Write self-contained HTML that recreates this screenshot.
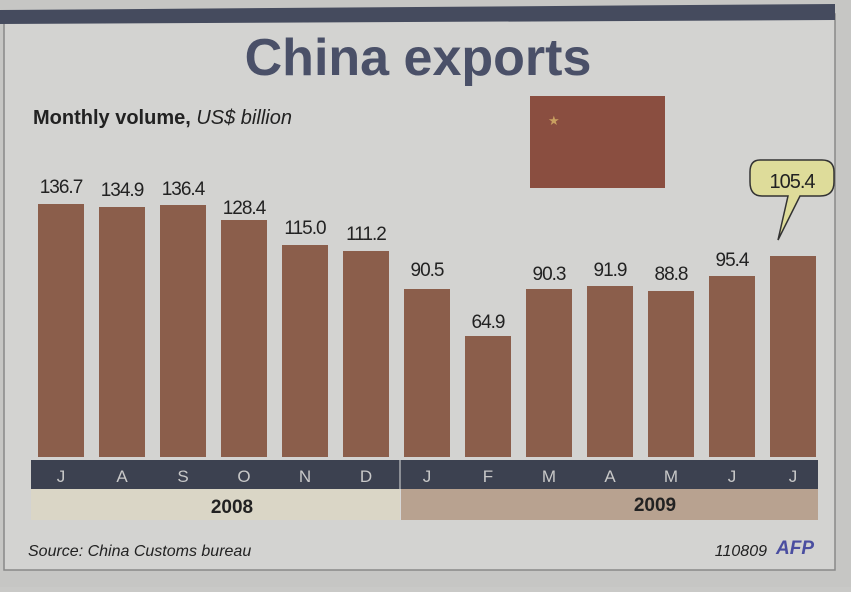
<!DOCTYPE html>
<html><head><style>body{margin:0;background:#c9c9c7}</style></head><body>
<svg width="851" height="587" xmlns="http://www.w3.org/2000/svg" font-family="Liberation Sans, sans-serif">
<rect width="851" height="587" fill="#c6c6c4"/>
<rect x="4" y="14" width="831" height="556" fill="#d3d3d1" stroke="#888" stroke-width="1.5"/>
<polygon points="0,10 835,4 835,20 0,24" fill="#454b5e"/>
<text x="418" y="75" text-anchor="middle" font-size="52" font-weight="bold" fill="#4a5068">China exports</text>
<text x="33" y="124" font-size="20" font-weight="bold" fill="#222">Monthly volume, <tspan font-weight="normal" font-style="italic">US$ billion</tspan></text>
<rect x="530" y="96" width="135" height="92" fill="#8a4e40"/>
<text x="548" y="125" font-size="13" fill="#c9a060">★</text>
<g fill="#8b5e4b">
<rect x="38" y="204" width="46" height="253"/><rect x="99" y="207" width="46" height="250"/>
<rect x="160" y="205" width="46" height="252"/><rect x="221" y="220" width="46" height="237"/>
<rect x="282" y="245" width="46" height="212"/><rect x="343" y="251" width="46" height="206"/>
<rect x="404" y="289" width="46" height="168"/><rect x="465" y="336" width="46" height="121"/>
<rect x="526" y="289" width="46" height="168"/><rect x="587" y="286" width="46" height="171"/>
<rect x="648" y="291" width="46" height="166"/><rect x="709" y="276" width="46" height="181"/>
<rect x="770" y="256" width="46" height="201"/>
</g>
<g font-size="19" fill="#222" text-anchor="middle" letter-spacing="-1">
<text x="61" y="193">136.7</text><text x="122" y="196">134.9</text><text x="183" y="195">136.4</text>
<text x="244" y="214">128.4</text><text x="305" y="234">115.0</text><text x="366" y="240">111.2</text>
<text x="427" y="276">90.5</text><text x="488" y="328">64.9</text><text x="549" y="280">90.3</text>
<text x="610" y="276">91.9</text><text x="671" y="280">88.8</text><text x="732" y="266">95.4</text>
</g>
<path d="M760,160 Q750,160 750,172 L750,182 Q750,196 762,196 L788,196 L778,240 L800,196 L820,196 Q834,196 834,182 L834,172 Q834,160 822,160 Z" fill="#dedc9a" stroke="#333" stroke-width="1.5"/>
<text x="792" y="188" font-size="20" text-anchor="middle" fill="#222" letter-spacing="-1">105.4</text>
<rect x="31" y="460" width="787" height="29" fill="#3c4150"/>
<line x1="400" y1="460" x2="400" y2="520" stroke="#ddd" stroke-width="1"/>
<rect x="31" y="489" width="369" height="31" fill="#dad6c6"/>
<rect x="401" y="489" width="417" height="31" fill="#b8a290"/>
<g font-size="17" fill="#c8c8c8" text-anchor="middle">
<text x="61" y="482">J</text><text x="122" y="482">A</text><text x="183" y="482">S</text><text x="244" y="482">O</text>
<text x="305" y="482">N</text><text x="366" y="482">D</text><text x="427" y="482">J</text><text x="488" y="482">F</text>
<text x="549" y="482">M</text><text x="610" y="482">A</text><text x="671" y="482">M</text><text x="732" y="482">J</text><text x="793" y="482">J</text>
</g>
<text x="232" y="513" font-size="19" font-weight="bold" text-anchor="middle" fill="#222">2008</text>
<text x="655" y="511" font-size="19" font-weight="bold" text-anchor="middle" fill="#222">2009</text>
<text x="28" y="556" font-size="16" font-style="italic" fill="#222">Source: China Customs bureau</text>
<text x="767" y="556" font-size="16" font-style="italic" text-anchor="end" fill="#222">110809</text>
<text x="776" y="554" font-size="19" font-weight="bold" font-style="italic" fill="#4a4ea0">AFP</text>
</svg>
</body></html>
